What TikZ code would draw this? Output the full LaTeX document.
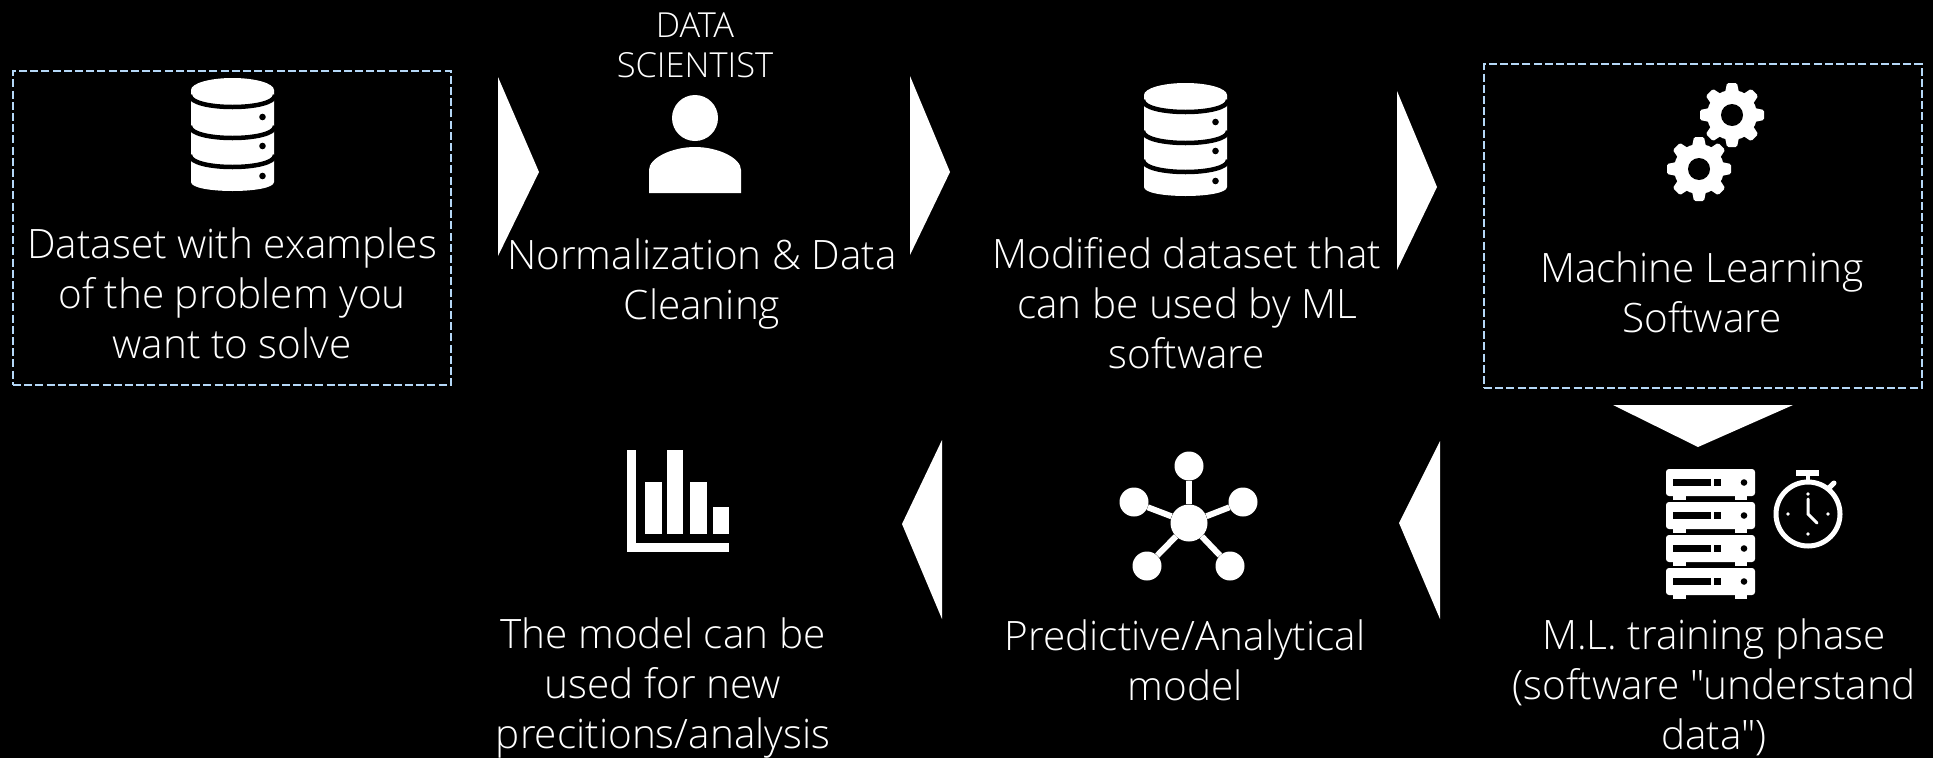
\documentclass[tikz,border=0pt]{standalone}
\usepackage{fontspec}
\setmainfont{Open Sans}[UprightFont=* Light,Ligatures={TeXOff,NoCommon}]
\usepackage{tikz}
\usepackage{xcolor}
\definecolor{boxblue}{HTML}{B5D8F7}

\tikzset{
  dbicon/.pic={
    \fill[white] (0,12) -- (0,104) .. controls (0,116) and (83,116) .. (83,104) -- (83,12) -- cycle;
    \foreach \y in {17,48,77} {
      \draw[black,line width=4.5] (-1,\y) .. controls (-1,\y+16) and (84,\y+16) .. (84,\y);
    }
    \fill[white] (41.5,12) ellipse [x radius=41.5,y radius=12];
    \foreach \y in {39,68,98} {
      \fill[black] (71.5,\y) circle [radius=3.3];
    }
  },
  gearicon/.pic={
    \fill[white] (0,0) circle [radius=25];
    \foreach \a in {0,45,...,315} {
      \fill[white,rotate=\a,rounded corners=1.5pt] (-7.5,-20) -- (-5,-32) -- (5,-32) -- (7.5,-20) -- cycle;
    }
    \fill[black] (0,0) circle [radius=11];
  },
  servericon/.pic={
    \fill[white,rounded corners=3pt] (0,0) rectangle (89,27);
    \fill[white] (7,27) rectangle (20,31);
    \fill[white] (69,27) rectangle (81,31);
    \fill[black] (7,10) rectangle (45,17);
    \fill[black] (48,10) rectangle (55,17);
    \fill[black] (78,13.5) circle [radius=3.3];
  }
}

\begin{document}
\begin{tikzpicture}[x=1pt,y=-1pt,
  dashbox/.style={draw=boxblue,dash pattern=on 8pt off 3.2pt,line width=2.8pt,inner sep=0pt,outer sep=0pt},
  label/.style={text=white,align=center,inner sep=0pt,font=\fontsize{40.5}{50}\selectfont},
  smalllabel/.style={text=white,align=center,inner sep=0pt,font=\fontsize{34.5}{40}\selectfont},
  chevron/.style={fill=white}
]
\useasboundingbox[fill=black] (0,0) rectangle (1933,758);

% Boxes
\node[dashbox,minimum width=438pt,minimum height=314pt] (datasetbox) at (232,228) {};
\node[dashbox,minimum width=438pt,minimum height=324pt] (mlbox) at (1703,226) {};

% Top row
\pic at (191,78) {dbicon};
\node[label] (dataset) at (232,293) {Dataset with examples\\of the problem you\\want to solve};

\node[smalllabel] (scientist) at (695,45) {DATA\\SCIENTIST};
\fill[white] (695,118) ellipse [x radius=23,y radius=23];
\fill[white] (649,193) -- (649,170) .. controls (649,158) and (672,147) .. (695,147) .. controls (718,147) and (741,158) .. (741,170) -- (741,193) -- cycle;
\node[label] (cleaning) at (702,284) {Normalization \& Data\\Cleaning};

\pic at (1144,83) {dbicon};
\node[label] (modified) at (1187,303) {Modified dataset that\\can be used by ML\\software};

\pic at (1732,115) {gearicon};
\pic at (1699,169) {gearicon};
\node[label] (software) at (1702,292) {Machine Learning\\Software};

% Bottom row
\foreach \y in {469,502,535,568} {
  \pic at (1666,\y) {servericon};
}
\draw[white,line width=5] (1808,514) circle [radius=32];
\fill[white] (1796,470) rectangle (1819,476);
\fill[white] (1806,476) rectangle (1810,483);
\draw[white,line width=5,line cap=round] (1828,489) -- (1834,483);
\draw[white,line width=3,line cap=round] (1808,499) -- (1808,514) -- (1817,523);
\foreach \x/\y in {1808/494,1808/534,1788/514,1828/514} {
  \fill[white] (\x,\y) circle [radius=1.8];
}
\node[label] (training) at (1714,687) {M.L. training phase\\(software "understand\\data")};

\node[circle,fill=white,minimum size=37pt,inner sep=0pt] (hub) at (1189,523) {};
\foreach \n/\x/\y in {top/1189/466,left/1134/502,right/1243/502,botl/1147/566,botr/1230/566} {
  \node[circle,fill=white,minimum size=29pt,inner sep=0pt] (sat\n) at (\x,\y) {};
  \draw[white,line width=6] (hub) -- (sat\n);
}
\node[label] (predictive) at (1185,660) {Predictive/Analytical\\model};

\fill[white] (627,450) rectangle (636,552);
\fill[white] (627,543) rectangle (729,552);
\fill[white] (645,482) rectangle (662,534);
\fill[white] (667,450) rectangle (683,534);
\fill[white] (690,482) rectangle (707,534);
\fill[white] (713,507) rectangle (729,534);
\node[label] (usage) at (663,688) {The model can be\\used for new\\precitions/analysis};

% Big arrows
\fill[chevron] (498,77) -- (539,172) -- (498,256) -- cycle;
\fill[chevron] (910,76) -- (950,172) -- (910,255) -- cycle;
\fill[chevron] (1397,91) -- (1437,187) -- (1397,270) -- cycle;
\fill[chevron] (1613,405) -- (1793,405) -- (1698,447) -- cycle;
\fill[chevron] (1440,441) -- (1399,523) -- (1440,619) -- cycle;
\fill[chevron] (942,440) -- (902,524) -- (942,619) -- cycle;
\end{tikzpicture}
\end{document}
